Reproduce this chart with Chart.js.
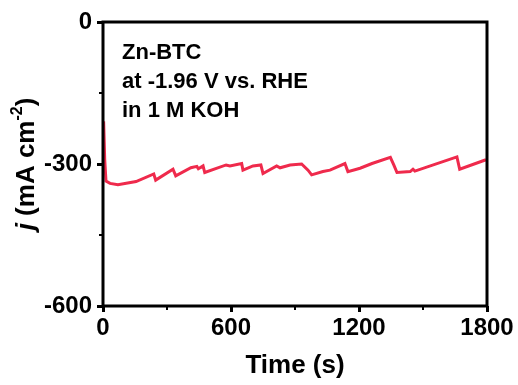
<!DOCTYPE html>
<html lang="en">
<head>
    <meta charset="UTF-8">
    <title>Zn-BTC chronoamperometry</title>
    <script src="https://cdn.jsdelivr.net/npm/chart.js"></script>
    <style>
        html, body {
            margin: 0;
            padding: 0;
            background: #ffffff;
        }
        #box {
            width: 518px;
            height: 385px;
        }
    </style>
</head>
<body>
    <div id="box"><canvas id="myChart"></canvas></div>
    <script>
        // values
        var timeS = [3, 8, 14, 33, 70, 155, 238, 247, 328, 341, 412, 440, 447, 469, 477, 577, 595, 650, 656, 703, 740, 750,
            814, 830, 877, 931, 961, 978, 1031, 1064, 1134, 1148, 1205, 1261, 1347, 1363, 1378, 1440, 1453, 1462,
            1659, 1672, 1795];
        var currentJ = [-210, -290, -336, -341, -344, -337, -321, -334, -311, -325, -308, -305, -310, -304, -318, -302, -304, -299, -313, -304, -302, -320,
            -304, -308, -302, -300, -313, -323, -316, -313, -299, -316, -309, -299, -286, -302, -318, -316, -311, -315,
            -285, -311, -291];
        var xTicks = [0, 600, 1200, 1800];
        var xMinor = [300, 900, 1500];
        var yTicks = [-600, -300, 0];
        var yMinor = [-450, -150];
        var noteLines = ['Zn-BTC', 'at -1.96 V vs. RHE', 'in 1 M KOH'];

        var FONT = "'Liberation Sans', Arial, sans-serif";

        var points = timeS.map(function (t, i) { return { x: t, y: currentJ[i] }; });

        var extras = {
            id: 'extras',
            afterDraw: function (chart) {
                var ctx = chart.ctx;
                var a = chart.chartArea;
                var xs = chart.scales.x, ys = chart.scales.y;
                ctx.save();
                // frame
                ctx.strokeStyle = '#000';
                ctx.lineWidth = 3;
                ctx.strokeRect(a.left, a.top, a.right - a.left, a.bottom - a.top);
                // minor ticks
                ctx.lineWidth = 2;
                ctx.beginPath();
                xMinor.forEach(function (v) {
                    var px = xs.getPixelForValue(v);
                    ctx.moveTo(px, a.bottom);
                    ctx.lineTo(px, a.bottom + 4);
                });
                yMinor.forEach(function (v) {
                    var py = ys.getPixelForValue(v);
                    ctx.moveTo(a.left, py);
                    ctx.lineTo(a.left - 4, py);
                });
                ctx.stroke();

                // note text
                ctx.fillStyle = '#000';
                ctx.font = 'bold 22px ' + FONT;
                ctx.textAlign = 'left';
                ctx.textBaseline = 'alphabetic';
                noteLines.forEach(function (s, i) {
                    ctx.fillText(s, a.left + 19, a.top + 37 + i * 29);
                });

                // y title: j (mA cm-2)
                var parts = [
                    { t: 'j', f: 'italic bold 26px ' + FONT, dy: 0 },
                    { t: ' (mA cm', f: 'bold 26px ' + FONT, dy: 0 },
                    { t: '-2', f: 'bold 16px ' + FONT, dy: -9 },
                    { t: ')', f: 'bold 26px ' + FONT, dy: 0 }
                ];
                var total = 0;
                parts.forEach(function (p) { ctx.font = p.f; p.w = ctx.measureText(p.t).width; total += p.w; });
                ctx.translate(27, (a.top + a.bottom) / 2);
                ctx.rotate(-Math.PI / 2);
                ctx.textBaseline = 'middle';
                var x = -total / 2;
                parts.forEach(function (p) {
                    ctx.font = p.f;
                    ctx.fillText(p.t, x, p.dy);
                    x += p.w;
                });
                ctx.restore();
            }
        };

        var ctx = document.getElementById('myChart').getContext('2d');
        var myChart = new Chart(ctx, {
            type: 'line',
            data: {
                datasets: [{
                    data: points,
                    borderColor: '#ef2a4c',
                    borderWidth: 3,
                    pointRadius: 0,
                    tension: 0,
                    fill: false
                }]
            },
            options: {
                responsive: true,
                maintainAspectRatio: false,
                animation: false,
                layout: { padding: { top: 22, right: 31, left: 0, bottom: 0 } },
                plugins: {
                    legend: { display: false },
                    tooltip: { enabled: false }
                },
                scales: {
                    x: {
                        type: 'linear',
                        min: 0,
                        max: 1800,
                        afterBuildTicks: function (s) { s.ticks = xTicks.map(function (v) { return { value: v }; }); },
                        afterFit: function (s) { s.height = 79; },
                        border: { display: false },
                        grid: { drawOnChartArea: false, tickLength: 6, tickWidth: 3, tickColor: '#000' },
                        ticks: {
                            color: '#000',
                            padding: 2,
                            maxRotation: 0,
                            callback: function (v) { return String(v); },
                            font: { family: FONT, size: 24, weight: 'bold' }
                        },
                        title: {
                            display: true,
                            text: 'Time (s)',
                            color: '#000',
                            padding: { top: 2, bottom: 4 },
                            font: { family: FONT, size: 26, weight: 'bold' }
                        }
                    },
                    y: {
                        type: 'linear',
                        min: -600,
                        max: 0,
                        afterBuildTicks: function (s) { s.ticks = yTicks.map(function (v) { return { value: v }; }); },
                        afterFit: function (s) { s.width = 103; },
                        border: { display: false },
                        grid: { drawOnChartArea: false, tickLength: 6, tickWidth: 3, tickColor: '#000' },
                        ticks: {
                            color: '#000',
                            padding: 5,
                            callback: function (v) { return String(v); },
                            font: { family: FONT, size: 24, weight: 'bold' }
                        }
                    }
                }
            },
            plugins: [extras]
        });
    </script>
</body>
</html>
